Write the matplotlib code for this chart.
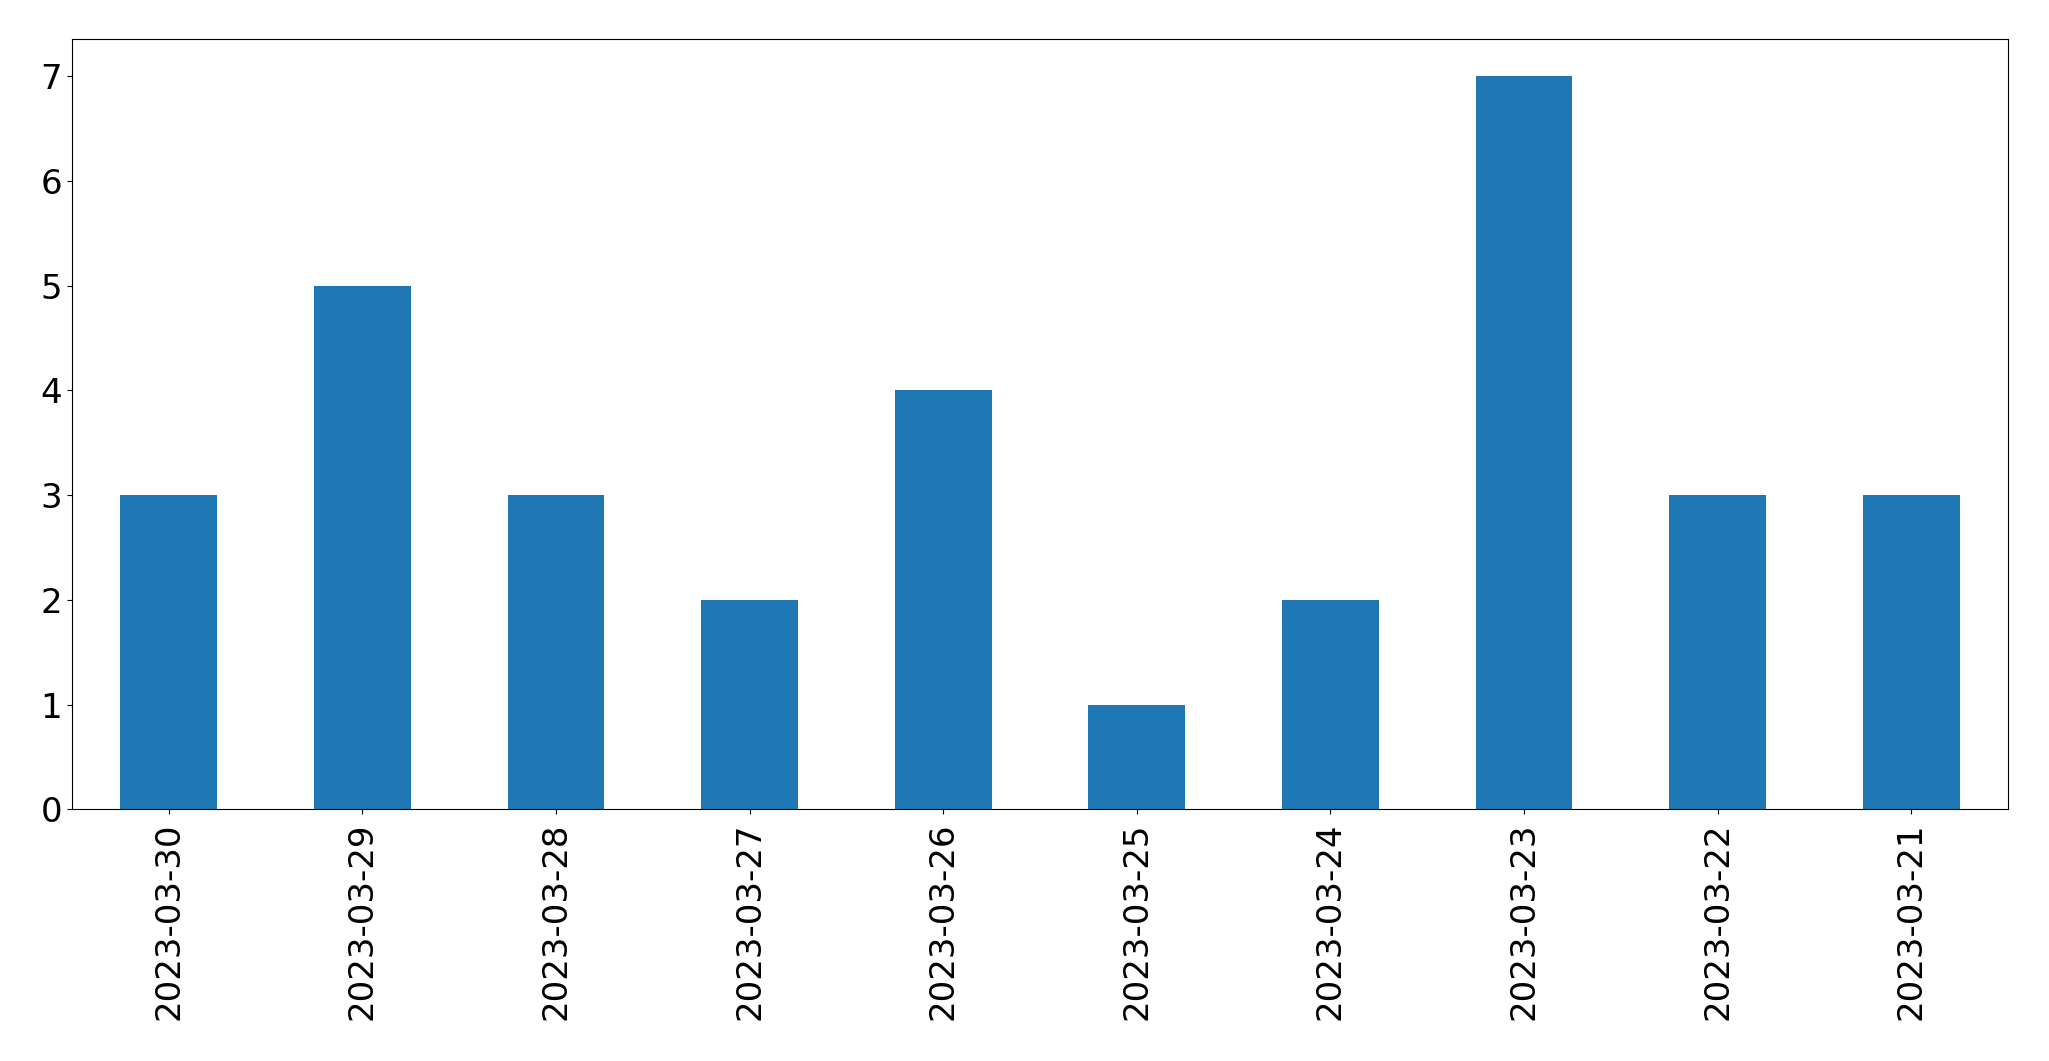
import pandas as pd
import matplotlib
matplotlib.use("Agg")
import matplotlib.pyplot as plt

dates = ["2023-03-30", "2023-03-29", "2023-03-28", "2023-03-27", "2023-03-26",
         "2023-03-25", "2023-03-24", "2023-03-23", "2023-03-22", "2023-03-21"]
counts = [3, 5, 3, 2, 4, 1, 2, 7, 3, 3]

s = pd.Series(counts, index=dates)

fig = plt.figure(figsize=(20.49, 10.61), dpi=100)
ax = fig.add_axes([0.0351, 0.2371, 0.9449, 0.7259])
s.plot(kind="bar", ax=ax, color="#1f77b4")
ax.tick_params(axis="both", labelsize=24.5)
ax.tick_params(axis="x", pad=6)

fig.savefig("out.png", dpi=100)
